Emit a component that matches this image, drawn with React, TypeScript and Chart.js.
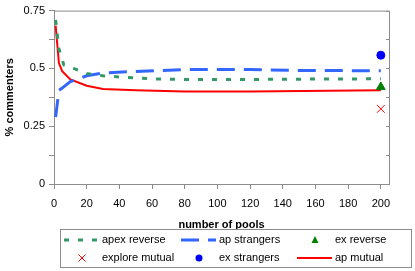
import React, { useEffect, useRef } from "react";
import { Chart, registerables } from "chart.js";

Chart.register(...registerables);

const apexReverseX = [1, 3, 6, 12, 20, 30, 40, 60, 80, 120, 160, 200];
const apexReverseY = [0.71, 0.585, 0.515, 0.5, 0.478, 0.468, 0.463, 0.455, 0.452, 0.452, 0.454, 0.455];

const apStrangersX = [1, 3, 5, 10, 20, 30, 50, 80, 120, 150, 200];
const apStrangersY = [0.29, 0.405, 0.415, 0.443, 0.468, 0.48, 0.487, 0.495, 0.495, 0.491, 0.49];

const apMutualX = [1, 3, 5, 10, 20, 30, 50, 80, 120, 200];
const apMutualY = [0.685, 0.523, 0.488, 0.452, 0.425, 0.411, 0.405, 0.4, 0.4, 0.405];

const exReverseX = [200];
const exReverseY = [0.42];
const exploreMutualX = [200];
const exploreMutualY = [0.325];
const exStrangersX = [200];
const exStrangersY = [0.557];

const yMajorValues = [0, 0.25, 0.5, 0.75];
const yMajorLabels = ["0", "0.25", "0.5", "0.75"];

const FONT = '"Liberation Sans", Arial, Helvetica, sans-serif';

const pts = (xs: number[], ys: number[]) => xs.map((x, i) => ({ x, y: ys[i] }));

const framePlugin = {
  id: "frame",
  afterDraw(chart: any) {
    const { ctx, chartArea: a } = chart;
    ctx.save();
    ctx.strokeStyle = "#8c8c8c";
    ctx.lineWidth = 1;
    ctx.beginPath();
    ctx.moveTo(a.left, a.top + 0.5);
    ctx.lineTo(a.right + 0.5, a.top + 0.5);
    ctx.lineTo(a.right + 0.5, a.bottom);
    ctx.stroke();
    const ys = chart.scales.y;
    ys.ticks.forEach((t: any) => {
      const py = Math.round(ys.getPixelForValue(t.value)) + 0.5;
      ctx.beginPath();
      ctx.moveTo(a.right - 3, py);
      ctx.lineTo(a.right, py);
      ctx.stroke();
    });
    ctx.restore();

    // legend
    ctx.save();
    ctx.strokeStyle = "#8c8c8c";
    ctx.lineWidth = 1;
    ctx.strokeRect(60.5, 229.5, 351, 38);
    ctx.font = "11px " + FONT;
    ctx.textBaseline = "middle";
    ctx.textAlign = "left";
    const textX = [102, 219, 335];
    const rowY = [240, 258];
    chart.data.datasets.forEach((ds: any, i: number) => {
      const col = i % 3;
      const row = Math.floor(i / 3);
      const tx = textX[col];
      const ty = rowY[row];
      ctx.save();
      if (ds.showLine !== false) {
        ctx.strokeStyle = ds.borderColor;
        ctx.lineWidth = ds.borderWidth;
        ctx.setLineDash(ds.borderDash || []);
        ctx.beginPath();
        ctx.moveTo(tx - 38, ty);
        ctx.lineTo(tx - 3, ty);
        ctx.stroke();
      } else {
        const cx = tx - 20;
        const style = ds.pointStyle;
        ctx.fillStyle = ds.pointBackgroundColor;
        ctx.strokeStyle = ds.pointBorderColor;
        ctx.lineWidth = 1;
        if (style === "circle") {
          ctx.beginPath();
          ctx.arc(cx, ty, 3.5, 0, Math.PI * 2);
          ctx.fill();
        } else if (style === "triangle") {
          ctx.beginPath();
          ctx.moveTo(cx, ty - 4);
          ctx.lineTo(cx + 3.5, ty + 3);
          ctx.lineTo(cx - 3.5, ty + 3);
          ctx.closePath();
          ctx.fill();
        } else {
          ctx.beginPath();
          ctx.moveTo(cx - 3.5, ty - 3.5);
          ctx.lineTo(cx + 3.5, ty + 3.5);
          ctx.moveTo(cx + 3.5, ty - 3.5);
          ctx.lineTo(cx - 3.5, ty + 3.5);
          ctx.stroke();
        }
      }
      ctx.restore();
      ctx.fillStyle = "#000";
      ctx.fillText(ds.label, tx, ty);
    });
    ctx.restore();
  },
};

export default function App() {
  const ref = useRef<HTMLCanvasElement>(null);
  useEffect(() => {
    if (!ref.current) return;
    const chart = new Chart(ref.current, {
      type: "line",
      data: {
        datasets: [
          {
            label: "apex reverse",
            data: pts(apexReverseX, apexReverseY),
            borderColor: "#339966",
            borderWidth: 3,
            borderDash: [5, 9],
            pointRadius: 0,
            tension: 0,
          },
          {
            label: "ap strangers",
            data: pts(apStrangersX, apStrangersY),
            borderColor: "#3366ff",
            borderWidth: 3,
            borderDash: [18, 9],
            pointRadius: 0,
            tension: 0,
          },
          {
            label: "ex reverse",
            data: pts(exReverseX, exReverseY),
            showLine: false,
            pointStyle: "triangle",
            pointRadius: 5,
            pointBackgroundColor: "#008000",
            pointBorderColor: "#008000",
            borderColor: "#008000",
          },
          {
            label: "explore mutual",
            data: pts(exploreMutualX, exploreMutualY),
            showLine: false,
            pointStyle: "crossRot",
            pointRadius: 5.5,
            pointBorderWidth: 1,
            pointBackgroundColor: "#ff0000",
            pointBorderColor: "#ff0000",
            borderColor: "#ff0000",
          },
          {
            label: "ex strangers",
            data: pts(exStrangersX, exStrangersY),
            showLine: false,
            pointStyle: "circle",
            pointRadius: 4,
            pointBackgroundColor: "#0000ff",
            pointBorderColor: "#0000ff",
            borderColor: "#0000ff",
          },
          {
            label: "ap mutual",
            data: pts(apMutualX, apMutualY),
            borderColor: "#ff0000",
            borderWidth: 2,
            pointRadius: 0,
            tension: 0,
          },
        ],
      },
      options: {
        responsive: false,
        animation: false,
        devicePixelRatio: 1,
        layout: { padding: { top: 8, right: 26, left: 0, bottom: 0 } },
        plugins: { legend: { display: false }, tooltip: { enabled: false } },
        scales: {
          x: {
            type: "linear",
            min: 0,
            max: 205,
            afterFit: (s: any) => {
              s.height = 87;
            },
            grid: { drawOnChartArea: false, drawTicks: true, tickLength: 5, color: "#8c8c8c" },
            border: { color: "#8c8c8c" },
            ticks: {
              stepSize: 20,
              includeBounds: false,
              padding: 8,
              color: "#000",
              font: { family: FONT, size: 11 },
              maxRotation: 0,
            },
            title: {
              display: true,
              text: "number of pools",
              color: "#000",
              font: { family: FONT, size: 11, weight: "bold" },
              padding: { top: 0, bottom: 39 },
            },
          },
          y: {
            min: 0,
            max: 0.75,
            afterFit: (s: any) => {
              s.width = 54;
            },
            grid: { drawOnChartArea: false, drawTicks: true, tickLength: 5, color: "#8c8c8c" },
            border: { color: "#8c8c8c" },
            ticks: {
              stepSize: 0.125,
              autoSkip: false,
              padding: 4,
              color: "#000",
              font: { family: FONT, size: 11 },
              callback: (v: any) => {
                const i = yMajorValues.findIndex((m) => Math.abs(m - Number(v)) < 1e-9);
                return i >= 0 ? yMajorLabels[i] : "";
              },
            },
            title: {
              display: true,
              text: "% commenters",
              color: "#000",
              font: { family: FONT, size: 11, weight: "bold" },
              padding: { top: 3, bottom: 0 },
            },
          },
        },
      },
      plugins: [framePlugin],
    } as any);
    return () => chart.destroy();
  }, []);
  return (
    <div style={{ position: "absolute", left: 0, top: 0, width: 415, height: 271 }}>
      <canvas ref={ref} width={415} height={271} />
    </div>
  );
}
